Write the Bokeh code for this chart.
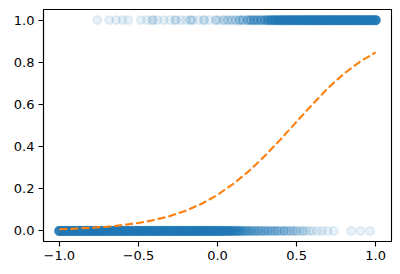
import numpy as np
from bokeh.plotting import figure
from bokeh.models import Range1d, FixedTicker, ColumnDataSource
from bokeh.embed import file_html
from bokeh.resources import INLINE

# Observations with outcome 1: x positions and how many observations stack there
ones_x = [-0.76, -0.685, -0.64, -0.60, -0.565, -0.485, -0.445, -0.41, -0.38, -0.34,
          -0.30, -0.265, -0.23, -0.20, -0.17, -0.155, -0.12, -0.085, -0.05, -0.01,
          0.01, 0.04, 0.065, 0.09, 0.115, 0.14, 0.16, 0.19, 0.21, 0.23,
          0.25, 0.275, 0.30, 0.32, 0.34, 0.36, 0.38, 0.40, 0.42, 0.44,
          0.46, 0.48, 0.50, 0.52, 0.54, 0.56, 0.58, 0.60, 0.62, 0.64,
          0.66, 0.68, 0.70, 0.72, 0.74, 0.76, 0.78, 0.80, 0.82, 0.84,
          0.86, 0.88, 0.90, 0.92, 0.94, 0.96, 0.98, 1.00]
ones_n = [1, 1, 1, 1, 1, 1, 1, 2, 1, 1,
          1, 2, 1, 1, 2, 1, 1, 2, 1, 2,
          1, 2, 2, 2, 2, 3, 3, 4, 4, 5,
          5, 6, 6, 8, 9, 10, 12, 12, 14, 14,
          15, 15, 16, 16, 16, 18, 18, 18, 18, 18,
          18, 20, 20, 20, 20, 20, 20, 20, 20, 20,
          20, 20, 20, 20, 20, 20, 20, 20]

# Observations with outcome 0
zeros_x = [-1.00, -0.98, -0.96, -0.94, -0.92, -0.90, -0.88, -0.86, -0.84, -0.82,
           -0.80, -0.78, -0.76, -0.74, -0.72, -0.70, -0.68, -0.66, -0.64, -0.62,
           -0.60, -0.58, -0.56, -0.54, -0.52, -0.50, -0.48, -0.46, -0.44, -0.42,
           -0.40, -0.38, -0.36, -0.34, -0.32, -0.30, -0.28, -0.26, -0.24, -0.22,
           -0.20, -0.18, -0.16, -0.14, -0.12, -0.10, -0.08, -0.06, -0.04, -0.02,
           0.00, 0.02, 0.04, 0.06, 0.08, 0.10, 0.12, 0.14, 0.16, 0.18,
           0.20, 0.22, 0.24, 0.26, 0.28, 0.30, 0.32, 0.34, 0.36, 0.38,
           0.40, 0.42, 0.44, 0.46, 0.48, 0.50, 0.52, 0.54, 0.56, 0.58,
           0.60, 0.63, 0.66, 0.695, 0.735, 0.845, 0.905, 0.965]
zeros_n = [20, 20, 20, 20, 20, 20, 20, 20, 20, 20,
           20, 20, 20, 20, 20, 20, 20, 20, 20, 20,
           20, 20, 20, 20, 20, 20, 20, 20, 20, 20,
           20, 20, 20, 20, 20, 20, 20, 20, 20, 20,
           20, 20, 20, 20, 20, 20, 18, 18, 18, 18,
           18, 16, 15, 14, 12, 10, 9, 8, 6, 5,
           5, 4, 4, 4, 3, 4, 3, 3, 3, 3,
           2, 3, 2, 2, 2, 2, 1, 2, 1, 1,
           1, 1, 1, 1, 1, 1, 1, 1]

# Fitted probability curve
curve_x = [-1.0, -0.9, -0.8, -0.7, -0.6, -0.5, -0.4, -0.3, -0.2, -0.1, 0.0,
           0.1, 0.2, 0.3, 0.4, 0.5, 0.6, 0.7, 0.8, 0.9, 1.0]
curve_y = [0.008, 0.011, 0.015, 0.020, 0.028, 0.038, 0.052, 0.071, 0.096, 0.129, 0.171,
           0.223, 0.285, 0.356, 0.435, 0.518, 0.600, 0.678, 0.746, 0.802, 0.847]

x_ticks = [-1.0, -0.5, 0.0, 0.5, 1.0]
x_labels = ["\u22121.0", "\u22120.5", "0.0", "0.5", "1.0"]
y_ticks = [0.0, 0.2, 0.4, 0.6, 0.8, 1.0]
y_labels = ["0.0", "0.2", "0.4", "0.6", "0.8", "1.0"]

p = figure(width=400, height=274, output_backend="svg", toolbar_location=None,
           x_range=Range1d(-1.1, 1.1), y_range=Range1d(-0.05, 1.05),
           min_border_left=43, min_border_right=9, min_border_top=9, min_border_bottom=33)
p.background_fill_color = "white"
p.border_fill_color = "white"
p.outline_line_color = "black"
p.outline_line_width = 1.1
p.xgrid.visible = False
p.ygrid.visible = False

blue = "#1f77b4"
for xs_list, ns_list, yv in ((zeros_x, zeros_n, 0.0), (ones_x, ones_n, 1.0)):
    na = np.array(ns_list)
    # each stack of n observations at alpha 0.1 composites to 1 - 0.9**n
    src = ColumnDataSource(dict(x=xs_list, y=[yv] * len(xs_list),
                                fa=list(1 - 0.9 ** na),
                                la=list(1 - 0.9 ** na)))
    p.scatter("x", "y", source=src, size=8.3, marker="circle", fill_color=blue,
              line_color=blue, fill_alpha="fa", line_alpha="la", line_width=2)

p.line(curve_x, curve_y, line_color="#ff7f0e", line_width=2.1, line_dash="8 3")

for ax, ticks, labels in ((p.xaxis[0], x_ticks, x_labels), (p.yaxis[0], y_ticks, y_labels)):
    ax.ticker = FixedTicker(ticks=ticks)
    ax.major_label_overrides = {t: l for t, l in zip(ticks, labels)}
    ax.minor_tick_line_color = None
    ax.major_tick_out = 5
    ax.major_tick_in = 0
    ax.major_tick_line_color = "black"
    ax.major_tick_line_width = 1.1
    ax.axis_line_color = "black"
    ax.axis_line_width = 1.1
    ax.major_label_text_font = "DejaVu Sans"
    ax.major_label_text_font_size = "13px"
    ax.major_label_text_color = "black"
    ax.major_label_standoff = 4

open("out.html", "w").write(file_html(p, INLINE))
